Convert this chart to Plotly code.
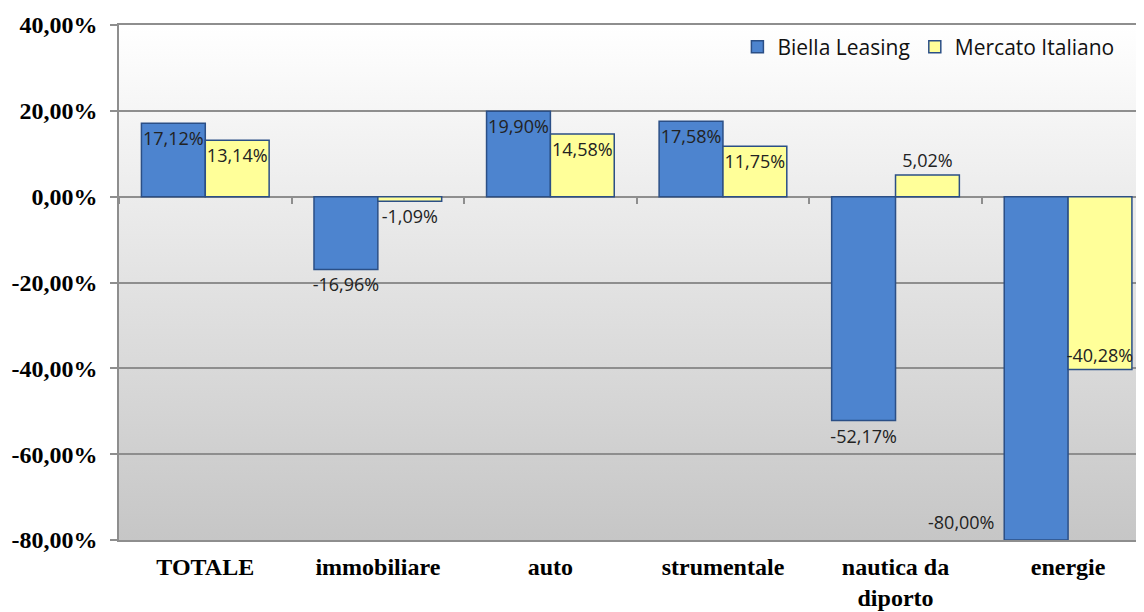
import base64
import plotly.graph_objects as go

categories = ["TOTALE", "immobiliare", "auto", "strumentale", "nautica da<br>diporto", "energie"]
biella = [17.12, -16.96, 19.90, 17.58, -52.17, -80.00]
mercato = [13.14, -1.09, 14.58, 11.75, 5.02, -40.28]
y_tick_vals = [-80, -60, -40, -20, 0, 20, 40]
y_tick_labels = ["-80,00%", "-60,00%", "-40,00%", "-20,00%", "0,00%", "20,00%", "40,00%"]

biella_pos = ["inside", "outside", "inside", "inside", "outside", "none"]
mercato_pos = ["inside", "outside", "inside", "inside", "outside", "inside"]


def fmt(v):
    return f"{v:.2f}".replace(".", ",") + "%"


GRID = "#8e8e8e"
OUTLINE = "#2b4f86"
label_font = dict(family="Open Sans", size=18, color="#222222")

fig = go.Figure()
fig.add_trace(go.Bar(
    name="Biella Leasing", x=categories, y=biella,
    marker=dict(color="#4d84cf", line=dict(color=OUTLINE, width=1.5)),
    text=[fmt(v) if p != "none" else "" for v, p in zip(biella, biella_pos)],
    textposition=biella_pos, insidetextanchor="end", constraintext="none", textangle=0,
    textfont=label_font, insidetextfont=label_font, outsidetextfont=label_font,
    cliponaxis=False,
))
fig.add_trace(go.Bar(
    name="Mercato Italiano", x=categories, y=mercato,
    marker=dict(color="#ffff99", line=dict(color=OUTLINE, width=1.5)),
    text=[fmt(v) for v in mercato],
    textposition=mercato_pos, insidetextanchor="end", constraintext="none", textangle=0,
    textfont=label_font, insidetextfont=label_font, outsidetextfont=label_font,
    cliponaxis=False,
))
# invisible trace for zero-line tick marks axis
fig.add_trace(go.Scatter(x=categories, y=[None] * len(categories), xaxis="x2",
                         showlegend=False, hoverinfo="skip", mode="markers"))

# label for the bar whose label sits beside it
fig.add_annotation(x=categories[5], y=biella[5], text=fmt(biella[5]), showarrow=False,
                   xshift=-107, yshift=18, font=label_font)

svg = ('<svg xmlns="http://www.w3.org/2000/svg" width="10" height="100" preserveAspectRatio="none">'
       '<defs><linearGradient id="g" x1="0" y1="0" x2="0" y2="1">'
       '<stop offset="0" stop-color="#ffffff"/><stop offset="1" stop-color="#c6c6c6"/>'
       '</linearGradient></defs><rect width="10" height="100" fill="url(#g)"/></svg>')
src = "data:image/svg+xml;base64," + base64.b64encode(svg.encode()).decode()

xr = [-0.5, 5.44]
tick_font = dict(family="Liberation Serif", size=24, color="black", weight="bold")
fig.update_layout(
    width=1136, height=604,
    margin=dict(l=111, r=0, t=17, b=72, autoexpand=False),
    paper_bgcolor="white", plot_bgcolor="rgba(0,0,0,0)",
    barmode="group", bargap=0.26, bargroupgap=0,
    images=[dict(source=src, xref="paper", yref="paper", x=0, y=1, sizex=1, sizey=1,
                 sizing="stretch", layer="below", xanchor="left", yanchor="top")],
    legend=dict(orientation="h", x=0.976, xanchor="right", y=0.957, yanchor="middle",
                font=dict(family="Open Sans", size=21, color="#111111"),
                bgcolor="rgba(0,0,0,0)", itemwidth=30),
    xaxis=dict(type="category", range=xr, showline=True, mirror=True, linecolor=GRID,
               linewidth=1.5, ticks="", showgrid=False, automargin=False,
               tickfont=tick_font, ticklabelstandoff=4),
    xaxis2=dict(type="category", overlaying="x", anchor="free", position=80 / 120,
                range=xr, categoryorder="array", categoryarray=categories,
                tickson="boundaries", ticks="outside", ticklen=6, tickwidth=1.5,
                tickcolor=GRID, showticklabels=False, showgrid=False, showline=False,
                automargin=False),
    yaxis=dict(range=[-80, 40], tickvals=y_tick_vals, ticktext=y_tick_labels,
               showline=True, linecolor=GRID, linewidth=1.5, automargin=False,
               ticks="outside", ticklen=7, tickwidth=1.5, tickcolor=GRID,
               showgrid=True, gridcolor=GRID, gridwidth=1.5,
               zeroline=True, zerolinecolor=GRID, zerolinewidth=2,
               tickfont=tick_font, ticklabelstandoff=8),
    font=dict(family="Open Sans"),
)

fig.write_html("out.html")
